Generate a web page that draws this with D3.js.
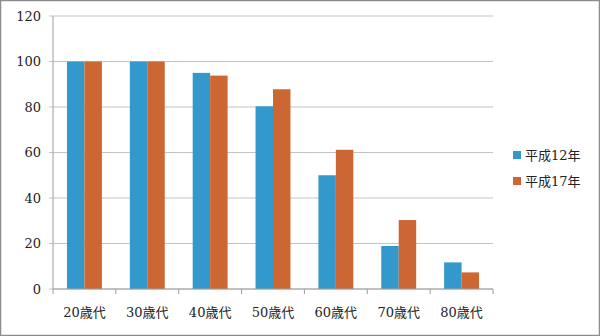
<!DOCTYPE html>
<html lang="en">
  <head>
    <meta charset="UTF-8" />
    <title>年代別 平成12年・平成17年</title>
    <style>
      body { margin: 0; background: #fff; }
    </style>
  </head>
  <body>
    <svg width="600" height="336"></svg>

    <script src="https://cdn.jsdelivr.net/npm/d3@7/dist/d3.min.js"></script>
    <script>
      const categories = ["20歳代", "30歳代", "40歳代", "50歳代", "60歳代", "70歳代", "80歳代"];
      const seriesNames = ["平成12年", "平成17年"];
      const h12 = [100, 100, 95, 80.3, 50, 18.9, 11.7];
      const h17 = [100, 100, 93.8, 87.8, 61.2, 30.3, 7.3];
      const yTicks = [0, 20, 40, 60, 80, 100, 120];
      const colors = ["#3399cc", "#cc6633"];

      const font = "'DejaVu Serif', 'Noto Sans CJK JP', serif";

      const svg = d3.select("svg").attr("font-family", font);
      const margin = { left: 53, right: 107, top: 16, bottom: 47 };
      const width = 600, height = 336;

      // outer frame
      svg.append("rect")
        .attr("x", 0.5).attr("y", 0.5)
        .attr("width", width - 1).attr("height", height - 1)
        .attr("fill", "#fff").attr("stroke", "#8c8c8c").attr("stroke-width", 1.5);

      const x = d3.scaleBand()
        .domain(categories)
        .range([margin.left, width - margin.right])
        .paddingInner(0).paddingOuter(0);

      const y = d3.scaleLinear()
        .domain([0, 120])
        .range([height - margin.bottom, margin.top]);

      const xs = d3.scaleBand()
        .domain(seriesNames)
        .range([0, x.bandwidth()])
        .paddingInner(0).paddingOuter(0.8);

      // gridlines
      svg.append("g")
        .selectAll("line")
        .data(yTicks)
        .join("line")
        .attr("x1", margin.left - 4).attr("x2", width - margin.right)
        .attr("y1", d => y(d)).attr("y2", d => y(d))
        .attr("stroke", "#c4c4c4").attr("stroke-width", 1.2);

      // y labels
      svg.append("g")
        .selectAll("text")
        .data(yTicks)
        .join("text")
        .attr("x", 41).attr("y", d => y(d))
        .attr("text-anchor", "end").attr("dominant-baseline", "central")
        .attr("font-size", 13).attr("fill", "#222")
        .text(d => d);

      // bars
      const data = categories.map((c, i) => ({ cat: c, vals: [h12[i], h17[i]] }));
      svg.append("g")
        .selectAll("g")
        .data(data)
        .join("g")
        .attr("transform", d => `translate(${x(d.cat)},0)`)
        .selectAll("rect")
        .data(d => d.vals.map((v, j) => ({ name: seriesNames[j], v, j })))
        .join("rect")
        .attr("x", d => xs(d.name))
        .attr("width", xs.bandwidth())
        .attr("y", d => y(d.v))
        .attr("height", d => y(0) - y(d.v))
        .attr("fill", d => colors[d.j]);

      // axes lines
      svg.append("line")
        .attr("x1", margin.left).attr("x2", margin.left)
        .attr("y1", margin.top).attr("y2", y(0))
        .attr("stroke", "#a0a0a0");
      svg.append("line")
        .attr("x1", margin.left).attr("x2", width - margin.right)
        .attr("y1", y(0)).attr("y2", y(0))
        .attr("stroke", "#a0a0a0");

      // bottom ticks at band boundaries
      const bounds = categories.map(c => x(c)).concat([width - margin.right]);
      svg.append("g")
        .selectAll("line")
        .data(bounds)
        .join("line")
        .attr("x1", d => d).attr("x2", d => d)
        .attr("y1", y(0)).attr("y2", y(0) + 5)
        .attr("stroke", "#a0a0a0");

      // category labels
      svg.append("g")
        .selectAll("text")
        .data(categories)
        .join("text")
        .attr("x", d => x(d) + x.bandwidth() / 2)
        .attr("y", 312)
        .attr("text-anchor", "middle").attr("dominant-baseline", "central")
        .attr("font-size", 13).attr("fill", "#222")
        .text(d => d);

      // legend
      const legend = svg.append("g")
        .selectAll("g")
        .data(seriesNames)
        .join("g")
        .attr("transform", (d, i) => `translate(513,${155 + i * 26})`);
      legend.append("rect")
        .attr("x", 0).attr("y", -4).attr("width", 8).attr("height", 8)
        .attr("fill", (d, i) => colors[i]);
      legend.append("text")
        .attr("x", 12).attr("y", 0)
        .attr("dominant-baseline", "central")
        .attr("font-size", 13).attr("fill", "#222")
        .text(d => d);
    </script>
  </body>
</html>
